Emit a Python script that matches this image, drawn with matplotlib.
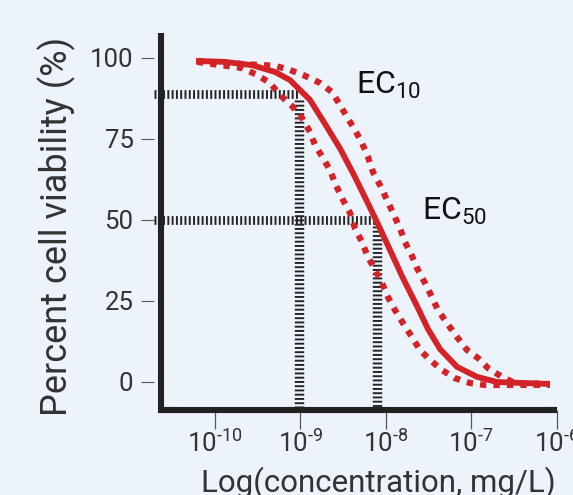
import numpy as np
import matplotlib
matplotlib.use("Agg")
import matplotlib.pyplot as plt
from matplotlib.lines import Line2D

plt.rcParams['font.family'] = ['Roboto', 'DejaVu Sans']
plt.rcParams['mathtext.fontset'] = 'custom'
plt.rcParams['mathtext.rm'] = 'Roboto'
plt.rcParams['mathtext.it'] = 'Roboto'
plt.rcParams['mathtext.default'] = 'regular'

# ---------------- data (log10 of concentration in mg/L, viability %) ----------------
fit_logc = [-10.222, -9.883, -9.567, -9.297, -9.122, -8.888, -8.689, -8.536, -8.384,
            -8.267, -8.103, -7.951, -7.799, -7.635, -7.506, -7.365, -7.166,
            -6.932, -6.698, -6.077]
fit_viab = [99.0, 98.7, 97.7, 95.6, 93.1, 87.0, 78.6, 72.0, 64.4,
            58.2, 49.3, 40.7, 32.0, 23.4, 16.3, 10.1, 4.6,
            1.5, -0.1, -0.7]

upper_logc = [-10.211, -9.707, -9.297, -9.122, -8.970, -8.770, -8.630, -8.536, -8.454,
              -8.361, -8.279, -8.208, -8.150, -8.068, -7.986, -7.916, -7.834, -7.775,
              -7.693, -7.623, -7.541, -7.459, -7.389, -7.283, -7.166, -7.049, -6.920,
              -6.803, -6.639, -6.487, -6.077]
upper_viab = [99.0, 98.1, 97.5, 96.2, 94.7, 92.2, 89.4, 85.4, 81.7,
              77.7, 73.7, 69.4, 64.7, 60.7, 56.1, 52.1, 47.4, 43.1,
              38.8, 34.5, 30.5, 26.1, 22.1, 18.1, 13.8, 9.8, 7.3,
              4.2, 1.5, -0.4, -0.7]

lower_logc = [-10.211, -9.684, -9.508, -9.356, -9.239, -9.098, -8.981, -8.888, -8.829,
              -8.735, -8.653, -8.583, -8.501, -8.419, -8.361, -8.279, -8.208, -8.126,
              -8.044, -7.974, -7.892, -7.799, -7.693, -7.600, -7.482, -7.342, -7.190,
              -7.014, -6.838, -6.077]
lower_viab = [98.7, 96.8, 94.7, 92.2, 88.5, 85.1, 81.4, 77.1, 73.1,
              69.0, 65.3, 60.6, 56.1, 52.1, 47.4, 43.1, 38.5, 34.5,
              30.5, 26.1, 22.1, 18.1, 13.8, 9.8, 6.7, 3.6, 1.1,
              -0.4, -1.0, -1.0]

ec_names = ['EC$_{10}$', 'EC$_{50}$']
ec_logc = [-9.016, -8.105]
ec_level = [88.8, 50.0]
ec_label_logc = [-8.349, -7.58]

y_ticks = [0, 25, 50, 75, 100]
x_tick_exp = [-10, -9, -8, -7, -6]
x_tick_labels = ['$10^{\u2010%d}$' % abs(e) for e in x_tick_exp]

# ---------------- styling ----------------
BG = '#EDF3FB'
RED = '#D42229'
DARK = '#222222'

fig = plt.figure(figsize=(5.73, 4.95), dpi=100, facecolor=BG)
ax = fig.add_axes([153.5 / 573, (495 - 409.5) / 495, 403 / 573, 376.5 / 495])
ax.set_facecolor(BG)
ax.set_xscale('log')
ax.set_xlim(10 ** -10.72, 1e-6)
ax.set_ylim(-8.58, 107.62)


def to_c(arr):
    return 10.0 ** np.asarray(arr, dtype=float)


# guide lines (EC10 / EC50)
x_left = 10 ** -10.72
for lc, lev in zip(ec_logc, ec_level):
    h, = ax.plot([x_left, 10 ** lc], [lev, lev], color=DARK, lw=6.3,
                 solid_capstyle='butt', dash_capstyle='butt', zorder=2)
    h.set_dashes((0.22, 0.27))
    v, = ax.plot([10 ** lc, 10 ** lc], [lev - 2, -8.58], color=DARK, lw=6.8,
                 dash_capstyle='butt', zorder=2)
    v.set_dashes((0.2, 0.25))

# curves
ax.plot(to_c(fit_logc), fit_viab, color=RED, lw=4.2, solid_capstyle='butt',
        solid_joinstyle='round', zorder=3)
for lc, vv in [(upper_logc, upper_viab), (lower_logc, lower_viab)]:
    ln, = ax.plot(to_c(lc), vv, color=RED, lw=4.5, dash_capstyle='butt', zorder=3)
    ln.set_dashes((1.0, 1.15))

# EC labels
for name, lc, lev in zip(ec_names, ec_label_logc, ec_level):
    ax.text(10 ** lc, lev, name, fontsize=23, color='#111111', ha='left',
            va='baseline', zorder=5)

# axis frame (thick L shape, left line slightly inset from ticks)
for s in ax.spines.values():
    s.set_visible(False)
fx = (161.3 - 153.5) / 403
frame = Line2D([fx, fx, 1.0], [1.0, 0.0, 0.0], transform=ax.transAxes, color=DARK,
               lw=4.4, solid_joinstyle='miter', solid_capstyle='butt',
               clip_on=False, zorder=6)
ax.add_line(frame)

# ticks
ax.set_yticks(y_ticks)
ax.set_yticklabels([str(t) for t in y_ticks])
ax.set_xticks(to_c(x_tick_exp))
ax.set_xticklabels(x_tick_labels)
ax.minorticks_off()
ax.tick_params(axis='y', direction='out', length=9.4, width=0.8, color='#555555',
               pad=5, labelsize=18.5, labelcolor='#333333')
ax.tick_params(axis='x', direction='out', length=13.5, width=0.9, color='#555555',
               pad=1.5, labelsize=18.5, labelcolor='#333333')

# axis labels
ax.set_ylabel('Percent cell viability (%)', fontsize=26, color='#333333')
ax.yaxis.label.set_va('center')
ax.yaxis.set_label_coords((57 - 153.5) / 403, (409.5 - 226.5) / 376.5)
ax.set_xlabel('Log(concentration, mg/L)', fontsize=22.5, color='#333333')
ax.xaxis.label.set_va('baseline')
ax.xaxis.set_label_coords((378.5 - 153.5) / 403, (409.5 - 492) / 376.5)

fig.savefig('out.png', dpi=100, facecolor=BG)
